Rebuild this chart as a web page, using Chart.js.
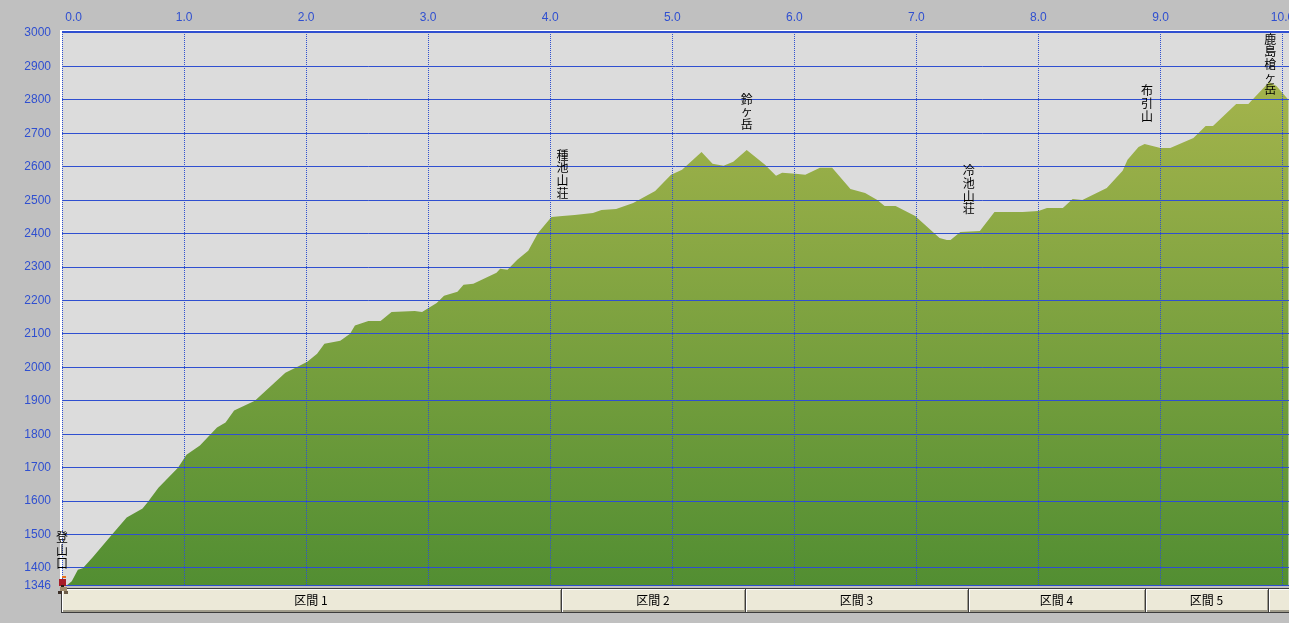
<!DOCTYPE html>
<html lang="ja"><head><meta charset="utf-8">
<style>html,body{margin:0;padding:0;background:#c0c0c0;overflow:hidden}canvas{display:block}</style>
<script src="https://cdn.jsdelivr.net/npm/chart.js@4"></script></head>
<body><canvas id="c" width="1289" height="623"></canvas>
<script>
const distanceKm=[0,0.04,0.08,0.13,0.17,0.25,0.41,0.53,0.66,0.70,0.79,0.95,1.02,1.13,1.27,1.34,1.41,1.58,1.83,1.93,2.01,2.09,2.15,2.28,2.36,2.40,2.51,2.61,2.70,2.89,2.95,3.07,3.13,3.24,3.29,3.37,3.56,3.59,3.65,3.73,3.82,3.90,4.01,4.10,4.20,4.35,4.42,4.54,4.68,4.86,4.99,5.08,5.24,5.33,5.42,5.50,5.61,5.76,5.85,5.90,6.01,6.09,6.21,6.31,6.46,6.58,6.68,6.74,6.83,6.99,7.19,7.25,7.28,7.36,7.52,7.64,7.87,8.00,8.07,8.20,8.28,8.36,8.56,8.69,8.73,8.82,8.87,9.00,9.08,9.27,9.37,9.43,9.62,9.72,9.89,9.95,10.05];
const elevation=[1346,1348,1360,1395,1399,1431,1500,1551,1578,1596,1640,1700,1739,1766,1820,1835,1871,1900,1984,2002,2017,2041,2071,2080,2101,2125,2139,2139,2166,2169,2166,2193,2214,2226,2247,2250,2283,2295,2292,2322,2349,2402,2450,2453,2456,2462,2471,2474,2492,2528,2576,2591,2644,2609,2603,2615,2650,2606,2573,2582,2579,2576,2597,2597,2534,2522,2501,2483,2483,2453,2387,2381,2381,2405,2408,2465,2465,2468,2477,2477,2504,2501,2537,2588,2621,2659,2668,2656,2656,2686,2722,2722,2788,2788,2854,2842,2800];
const yTicks=[1346,1400,1500,1600,1700,1800,1900,2000,2100,2200,2300,2400,2500,2600,2700,2800,2900,3000];
const sectionNames=['区間 1','区間 2','区間 3','区間 4','区間 5',''];
const sectionEnds=[0,4.09,5.6,7.42,8.87,9.88,10.06];
const placeNames=['登山口','種池山荘','鈴ヶ岳','冷池山荘','布引山','鹿島槍ヶ岳'];
const placeKm=[0,4.10,5.61,7.43,8.89,9.90];
const placeTopElev=[1491,2635,2803,2588,2827,2982];

const BLUE='#2f4fd0';
const CJK='"Noto Sans CJK JP","Noto Sans CJK SC",sans-serif';
const TICK_FONT='"Liberation Sans"';
const deco={id:'deco',
 beforeDraw(ch){const c=ch.ctx,a=ch.chartArea;c.save();c.fillStyle='#dcdcdc';c.fillRect(a.left,a.top-1,a.right-a.left,a.bottom-a.top+1);c.restore();},
 afterDraw(ch){
  const c=ch.ctx,a=ch.chartArea,x=ch.scales.x,y=ch.scales.y;
  const T=Math.floor(a.top)-1,B=Math.floor(a.bottom)-1,L=Math.round(a.left);
  c.save();
  // frame: white edge, thick top rule, baseline rule
  c.fillStyle='#ffffff';c.fillRect(L-2,T-2,a.right-L+2,1);c.fillRect(L-2,T-2,2,B-T+3);
  c.fillStyle=BLUE;c.fillRect(L,T-1,a.right-L,2);
  c.fillStyle='#c0c0c0';c.fillRect(L,B+1,a.right-L,3);
  c.fillStyle=BLUE;c.fillRect(L,B,a.right-L,1);
  // section buttons
  const top=B+3,bot=B+28;
  sectionNames.forEach((n,i)=>{
   const l=Math.round(x.getPixelForValue(sectionEnds[i]))-(i===0?1:0),r=Math.round(x.getPixelForValue(sectionEnds[i+1]));
   c.fillStyle='#3c3c3c';c.fillRect(l,top,r-l+1,bot-top);
   c.fillStyle='#ffffff';c.fillRect(l+1,top+1,r-l-1,bot-top-2);
   c.fillStyle='#a09c8c';c.fillRect(l+2,top+2,r-l-2,bot-top-3);
   c.fillStyle='#ece9d8';c.fillRect(l+2,top+2,r-l-3,bot-top-5);
   if(n){c.fillStyle='#000';c.font='12px '+CJK;c.textAlign='center';c.textBaseline='middle';c.fillText(n,(l+r)/2,top+12.5);}
  });
  // vertical place labels
  c.fillStyle='#000';c.font='12px '+CJK;c.textAlign='center';c.textBaseline='middle';
  placeNames.forEach((n,i)=>{
   const px=x.getPixelForValue(placeKm[i]),py=y.getPixelForValue(placeTopElev[i]);
   [...n].forEach((ch2,j)=>c.fillText(ch2,px,py+j*12.7));
  });
  // hiker icon
  const hx=x.getPixelForValue(0);
  [['#e8701c',0,576,4,2],['#a81c28',-3,579,7,7],['#2a1c14',-1,585,3,2],['#a08c6c',-2,587,7,4],['#3c3028',-4,591,4,3],['#6c5c48',2,591,4,3]].forEach(p=>{c.fillStyle=p[0];c.fillRect(hx+p[1],p[2],p[3],p[4]);});
  c.restore();
 }};
new Chart(document.getElementById('c'),{
 type:'line',
 data:{datasets:[{data:distanceKm.map((k,i)=>({x:k,y:elevation[i]})),parsing:false,fill:'start',borderWidth:0,pointRadius:0,tension:0,
  backgroundColor(ctx){const ch=ctx.chart,a=ch.chartArea;if(!a)return '#6a9a3a';
   const g=ch.ctx.createLinearGradient(0,ch.scales.y.getPixelForValue(2854),0,a.bottom);g.addColorStop(0,'#a4b44c');g.addColorStop(1,'#528e32');return g;}}]},
 options:{responsive:false,animation:false,devicePixelRatio:1,
  layout:{padding:{left:0,top:0,right:0,bottom:36.97}},
  plugins:{legend:{display:false},tooltip:{enabled:false}},
  scales:{
   x:{type:'linear',position:'top',min:0,max:10.053,
    afterFit(s){s.height=33.1;s.paddingLeft=0;s.paddingRight=0;},
    afterBuildTicks(s){s.ticks=[0,1,2,3,4,5,6,7,8,9,10].map(v=>({value:v}));},
    border:{display:false,dash:[1,1],dashOffset:1},
    grid:{color:BLUE,lineWidth:1,drawTicks:false,z:1},
    ticks:{autoSkip:false,maxRotation:0,minRotation:0,color:BLUE,padding:8,font:{family:TICK_FONT,size:12},
     callback:v=>(v===0?'       ':'')+Number(v).toFixed(1)}},
   y:{type:'linear',position:'left',min:1346,max:3000,
    afterFit(s){s.width=62;s.paddingTop=0;s.paddingBottom=0;},
    afterBuildTicks(s){s.ticks=yTicks.map(v=>({value:v}));},
    border:{display:false},
    grid:{color:c=>(c.tick&&(c.tick.value===3000||c.tick.value===1346))?'rgba(0,0,0,0)':BLUE,lineWidth:1,drawTicks:false,z:1},
    ticks:{autoSkip:false,color:BLUE,padding:11,font:{family:TICK_FONT,size:12},callback:v=>String(v)}}
  }},
 plugins:[deco]});
</script></body></html>
